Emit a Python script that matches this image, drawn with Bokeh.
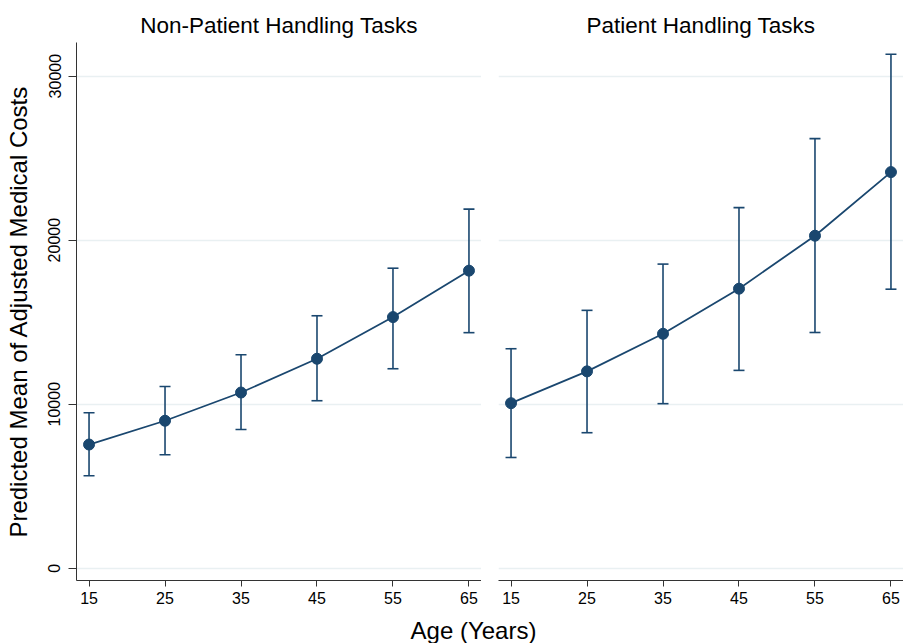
from bokeh.plotting import figure
from bokeh.layouts import column, row
from bokeh.models import (Range1d, FixedTicker, Whisker, TeeHead, ColumnDataSource,
                          Label, NumeralTickFormatter)
from bokeh.embed import file_html
from bokeh.resources import INLINE

# ---- data ----
ages = [15, 25, 35, 45, 55, 65]
nonph_mean = [7540, 8990, 10710, 12770, 15310, 18140]
nonph_lower = [5640, 6920, 8460, 10210, 12160, 14360]
nonph_upper = [9480, 11080, 13010, 15390, 18290, 21890]
ph_mean = [10060, 12000, 14290, 17040, 20270, 24150]
ph_lower = [6750, 8260, 10030, 12060, 14370, 17010]
ph_upper = [13380, 15720, 18540, 21980, 26190, 31330]
panel_titles = ["Non-Patient Handling Tasks", "Patient Handling Tasks"]
y_ticks = [0, 10000, 20000, 30000]
x_ticks = [15, 25, 35, 45, 55, 65]
y_label = "Predicted Mean of Adjusted Medical Costs"
x_label = "Age (Years)"

NAVY = "#1a476f"
FONT = "Liberation Sans"
AXIS = "#333333"
GRID = "#e9f0f2"

TOP = 42
FRAME_H = 538
BOTTOM = 34
ROW_H = TOP + FRAME_H + BOTTOM
FRAME_W = 405
LEFT1 = 76
LEFT2 = 17

yr = Range1d(-750, 32050)


def make_panel(title, mean, lo, hi, show_y):
    left = LEFT1 if show_y else LEFT2
    p = figure(width=left + FRAME_W, height=ROW_H,
               x_range=Range1d(13.35, 66.65), y_range=yr,
               output_backend="svg", toolbar_location=None,
               min_border_left=left, min_border_right=0,
               min_border_top=TOP, min_border_bottom=BOTTOM,
               background_fill_color="white", border_fill_color="white")
    p.outline_line_color = None
    p.title.text = title
    p.title.align = "center"
    p.title.text_font = FONT
    p.title.text_font_size = "22.5px"
    p.title.text_font_style = "normal"
    p.title.text_color = "black"
    p.title.standoff = 10

    p.xgrid.visible = False
    p.ygrid.ticker = FixedTicker(ticks=y_ticks)
    p.ygrid.grid_line_color = GRID
    p.ygrid.grid_line_width = 1.5

    xa = p.xaxis[0]
    xa.ticker = FixedTicker(ticks=x_ticks)
    xa.major_label_text_font = FONT
    xa.major_label_text_font_size = "16px"
    xa.major_label_text_color = "black"
    xa.major_tick_out = 6
    xa.major_tick_in = 0
    xa.minor_tick_out = 0
    xa.minor_tick_in = 0
    xa.axis_line_color = AXIS
    xa.major_tick_line_color = AXIS
    xa.major_label_standoff = 5

    if show_y:
        ya = p.yaxis[0]
        ya.ticker = FixedTicker(ticks=y_ticks)
        ya.formatter = NumeralTickFormatter(format="0")
        ya.major_label_orientation = "vertical"
        ya.major_label_text_font = FONT
        ya.major_label_text_font_size = "16px"
        ya.major_label_text_color = "black"
        ya.major_tick_out = 8
        ya.major_tick_in = 0
        ya.minor_tick_out = 0
        ya.minor_tick_in = 0
        ya.axis_line_color = AXIS
        ya.major_tick_line_color = AXIS
        ya.major_label_standoff = 8
        ya.axis_label = y_label
        ya.axis_label_text_font = FONT
        ya.axis_label_text_font_size = "24px"
        ya.axis_label_text_font_style = "normal"
        ya.axis_label_text_color = "black"
        ya.axis_label_standoff = 14
    else:
        p.yaxis.visible = False

    src = ColumnDataSource(dict(x=ages, mean=mean, lower=lo, upper=hi))
    w = Whisker(source=src, base="x", upper="upper", lower="lower",
                line_color=NAVY, line_width=1.6,
                upper_head=TeeHead(size=11, line_color=NAVY, line_width=1.6),
                lower_head=TeeHead(size=11, line_color=NAVY, line_width=1.6))
    p.add_layout(w)
    p.line("x", "mean", source=src, line_color=NAVY, line_width=1.8)
    p.scatter("x", "mean", source=src, size=11, fill_color=NAVY, line_color=NAVY)
    return p


p1 = make_panel(panel_titles[0], nonph_mean, nonph_lower, nonph_upper, True)
p2 = make_panel(panel_titles[1], ph_mean, ph_lower, ph_upper, False)

P3_H = 643 - ROW_H
p3 = figure(width=LEFT1 + FRAME_W + LEFT2 + FRAME_W, height=P3_H,
            x_range=Range1d(0, 1), y_range=Range1d(0, 1),
            x_axis_location=None, y_axis_location=None,
            output_backend="svg", toolbar_location=None,
            min_border_left=0, min_border_right=0, min_border_top=0, min_border_bottom=0)
p3.outline_line_color = None
p3.grid.visible = False
p3.add_layout(Label(x=473, y=P3_H - 16, x_units="screen", y_units="screen", text=x_label,
                    text_align="center", text_baseline="middle",
                    text_font=FONT, text_font_size="24px", text_color="black"))

layout = column(row(p1, p2, spacing=0), p3, spacing=0)

open("out.html", "w").write(file_html(layout, INLINE))
